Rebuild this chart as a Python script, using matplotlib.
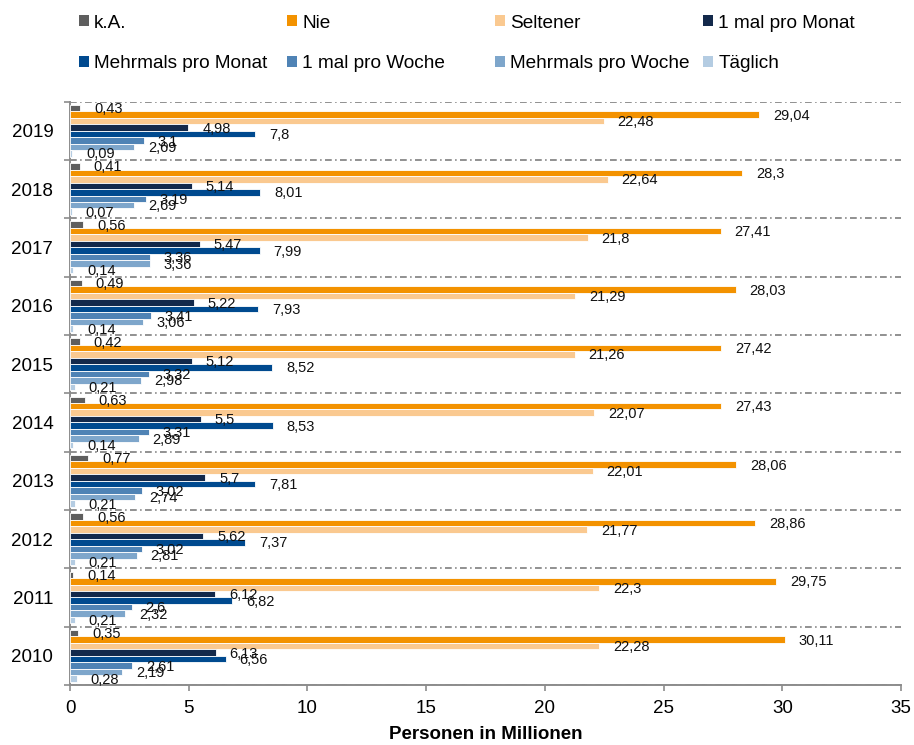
import matplotlib
matplotlib.use("Agg")
import matplotlib.pyplot as plt
from matplotlib.patches import Patch
import numpy as np

plt.rcParams['font.family'] = ['Liberation Sans', 'DejaVu Sans']

years = ["2010", "2011", "2012", "2013", "2014", "2015", "2016", "2017", "2018", "2019"]
series_names = ["k.A.", "Nie", "Seltener", "1 mal pro Monat",
                "Mehrmals pro Monat", "1 mal pro Woche", "Mehrmals pro Woche", "Täglich"]
colors = ["#5E5E5E", "#F39200", "#FAC990", "#13294B",
          "#004A8F", "#4F83B5", "#7EA6CB", "#B4CCE2"]

# values per series, ordered 2010 ... 2019
ka = [0.35, 0.14, 0.56, 0.77, 0.63, 0.42, 0.49, 0.56, 0.41, 0.43]
nie = [30.11, 29.75, 28.86, 28.06, 27.43, 27.42, 28.03, 27.41, 28.3, 29.04]
seltener = [22.28, 22.3, 21.77, 22.01, 22.07, 21.26, 21.29, 21.8, 22.64, 22.48]
monat1 = [6.13, 6.12, 5.62, 5.7, 5.5, 5.12, 5.22, 5.47, 5.14, 4.98]
monat_mehr = [6.56, 6.82, 7.37, 7.81, 8.53, 8.52, 7.93, 7.99, 8.01, 7.8]
woche1 = [2.61, 2.6, 3.02, 3.02, 3.31, 3.32, 3.41, 3.36, 3.19, 3.1]
woche_mehr = [2.19, 2.32, 2.81, 2.74, 2.89, 2.98, 3.06, 3.36, 2.69, 2.69]
taeglich = [0.28, 0.21, 0.21, 0.21, 0.14, 0.21, 0.14, 0.14, 0.07, 0.09]

series = [ka, nie, seltener, monat1, monat_mehr, woche1, woche_mehr, taeglich]

fig = plt.figure(figsize=(9.14, 7.45), dpi=100)
ax = fig.add_axes([70/914, 1-685/745, (901-70)/914, (685-101.5)/745])

h = 0.111
y = np.arange(len(years))
for i, (vals, col, name) in enumerate(zip(series, colors, series_names)):
    yy = y + (3.5 - i) * h
    bars = ax.barh(yy, vals, height=h, color=col, edgecolor="white", linewidth=0.6,
                   label=name, zorder=3)
    for b, v in zip(bars, vals):
        ax.annotate(f"{v:g}".replace(".", ","),
                    xy=(b.get_width(), b.get_y() + b.get_height()/2),
                    xytext=(10, -0.8), textcoords="offset points",
                    ha="left", va="center", fontsize=10.5, color="#111111", zorder=4)

ax.set_xlim(0, 35)
ax.set_ylim(-0.5, len(years) - 0.5)
ax.set_xticks(np.arange(0, 36, 5))
ax.set_yticks(y)
ax.set_yticklabels(years)
ax.set_yticks(np.arange(-0.5, len(years), 1.0), minor=True)

gridcol = "#8C8C8C"
ax.grid(False)
ax.yaxis.grid(True, which="minor", color=gridcol, linewidth=1.35,
              linestyle=(0, (3.6, 1.8, 0.8, 1.8)), zorder=1)

for s in ["top", "right"]:
    ax.spines[s].set_visible(False)
for s in ["left", "bottom"]:
    ax.spines[s].set_color(gridcol)
    ax.spines[s].set_linewidth(1.4)

ax.tick_params(axis="y", which="major", length=0, pad=12, labelsize=13.5, colors="black")
ax.tick_params(axis="y", which="minor", length=4, width=1.2, color=gridcol, direction="out")
ax.tick_params(axis="x", which="major", length=4.5, width=1.2, color=gridcol,
               direction="out", pad=6, labelsize=13.5, labelcolor="black")

ax.set_xlabel("Personen in Millionen", fontsize=13.5, fontweight="bold", labelpad=7)

# legend: 2 rows x 4 columns with equal column spacing
col_x = [79, 287, 495, 703]
row_y = [23, 64]
for i, (name, col) in enumerate(zip(series_names, colors)):
    r, c = divmod(i, 4)
    fig.legend(handles=[Patch(facecolor=col, edgecolor="none")], labels=[name],
               loc="center left", bbox_to_anchor=(col_x[c]/914, 1 - row_y[r]/745),
               frameon=False, fontsize=13.7, handlelength=0.5, handleheight=0.5,
               handletextpad=0.3, borderpad=0, borderaxespad=0)

fig.savefig("out.png", dpi=100)
